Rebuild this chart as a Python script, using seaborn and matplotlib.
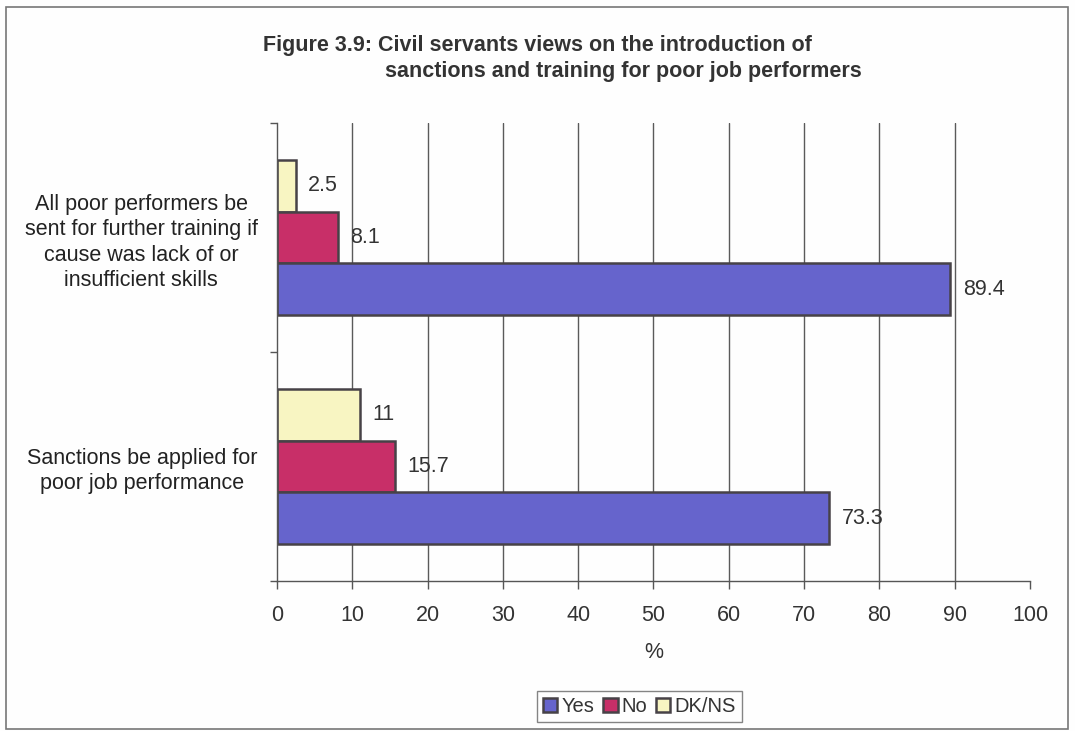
import matplotlib
matplotlib.use("Agg")
import matplotlib.pyplot as plt
from matplotlib.patches import Rectangle
import pandas as pd
import seaborn as sns

# Survey statements (top to bottom) and shares of responses in percent
statements = [
    "All poor performers be\nsent for further training if\ncause was lack of or\ninsufficient skills",
    "Sanctions be applied for\npoor job performance",
]
yes_pct = [89.4, 73.3]
no_pct = [8.1, 15.7]
dkns_pct = [2.5, 11.0]

responses = ["Yes", "No", "DK/NS"]
colors = {"Yes": "#6664cc", "No": "#c82f68", "DK/NS": "#f8f5c2"}
x_ticks = [0, 10, 20, 30, 40, 50, 60, 70, 80, 90, 100]

rows = []
for i, s in enumerate(statements):
    rows.append({"statement": s, "response": "Yes", "pct": yes_pct[i]})
    rows.append({"statement": s, "response": "No", "pct": no_pct[i]})
    rows.append({"statement": s, "response": "DK/NS", "pct": dkns_pct[i]})
df = pd.DataFrame(rows)

sns.set_style("white")
plt.rcParams["font.family"] = ["Liberation Sans", "DejaVu Sans"]

FS = 15.5
TXT = "#333333"

fig = plt.figure(figsize=(10.75, 7.31), dpi=100, facecolor="#fefefe")
ax = fig.add_axes([0.2577, 0.2052, 0.7004, 0.6265])
ax.set_facecolor("#fefefe")

sns.barplot(
    data=df, x="pct", y="statement", hue="response",
    hue_order=["DK/NS", "No", "Yes"], palette=colors, saturation=1,
    orient="h", width=0.68, edgecolor="#474247", linewidth=1.8,
    ax=ax, legend=True,
)

for cont in ax.containers:
    ax.bar_label(cont, fmt="{:g}", padding=9, fontsize=FS, color=TXT)

ax.set_xlim(0, 100)
ax.set_ylim(1.5, -0.5)
ax.set_xticks(x_ticks)
ax.set_xticklabels([str(t) for t in x_ticks], fontsize=FS, color=TXT)
ax.tick_params(axis="x", bottom=True, direction="out", length=6, width=1,
               color="#555555", pad=11)
ax.set_yticks([0, 1])
ax.set_yticklabels(statements, fontsize=FS, color="#222222",
                   multialignment="center", linespacing=1.28)
ax.tick_params(axis="y", length=0, pad=14)
ax.set_yticks([-0.5, 0.5, 1.5], minor=True)
ax.tick_params(axis="y", which="minor", left=True, direction="out", length=5,
               width=1, color="#555555")

for g in x_ticks[1:-1]:
    ax.axvline(g, color="#5a5a5a", linewidth=1, zorder=0)

for side in ["top", "right"]:
    ax.spines[side].set_visible(False)
for side in ["left", "bottom"]:
    ax.spines[side].set_color("#555555")
    ax.spines[side].set_linewidth(1)

ax.set_xlabel("%", fontsize=FS, color=TXT, labelpad=12)
ax.set_ylabel("")

# Legend in Yes / No / DK/NS order, below the plot
handles, labels = ax.get_legend_handles_labels()
lookup = dict(zip(labels, handles))
ax.get_legend().remove()
leg = fig.legend(
    [lookup[r] for r in responses], responses, loc="center",
    bbox_to_anchor=(0.595, 0.034), ncol=3, frameon=True, fancybox=False,
    fontsize=14.5, handlelength=0.7, handleheight=0.7, handletextpad=0.2,
    columnspacing=0.45, borderpad=0.3, borderaxespad=0,
)
leg.get_frame().set_edgecolor("#666666")
leg.get_frame().set_linewidth(1)
for t in leg.get_texts():
    t.set_color(TXT)

fig.text(263 / 1075, 1 - 45 / 731,
         "Figure 3.9: Civil servants views on the introduction of",
         ha="left", va="center", fontsize=15.5, fontweight="bold", color=TXT)
fig.text(385 / 1075, 1 - 72 / 731,
         "sanctions and training for poor job performers",
         ha="left", va="center", fontsize=15.5, fontweight="bold", color=TXT)

# Outer border of the chart area
fig.patches.append(Rectangle((6 / 1075, 2 / 731), 1062 / 1075, 722 / 731,
                             transform=fig.transFigure, fill=False,
                             edgecolor="#777777", linewidth=1.2))

fig.savefig("out.png", dpi=100, facecolor=fig.get_facecolor())
